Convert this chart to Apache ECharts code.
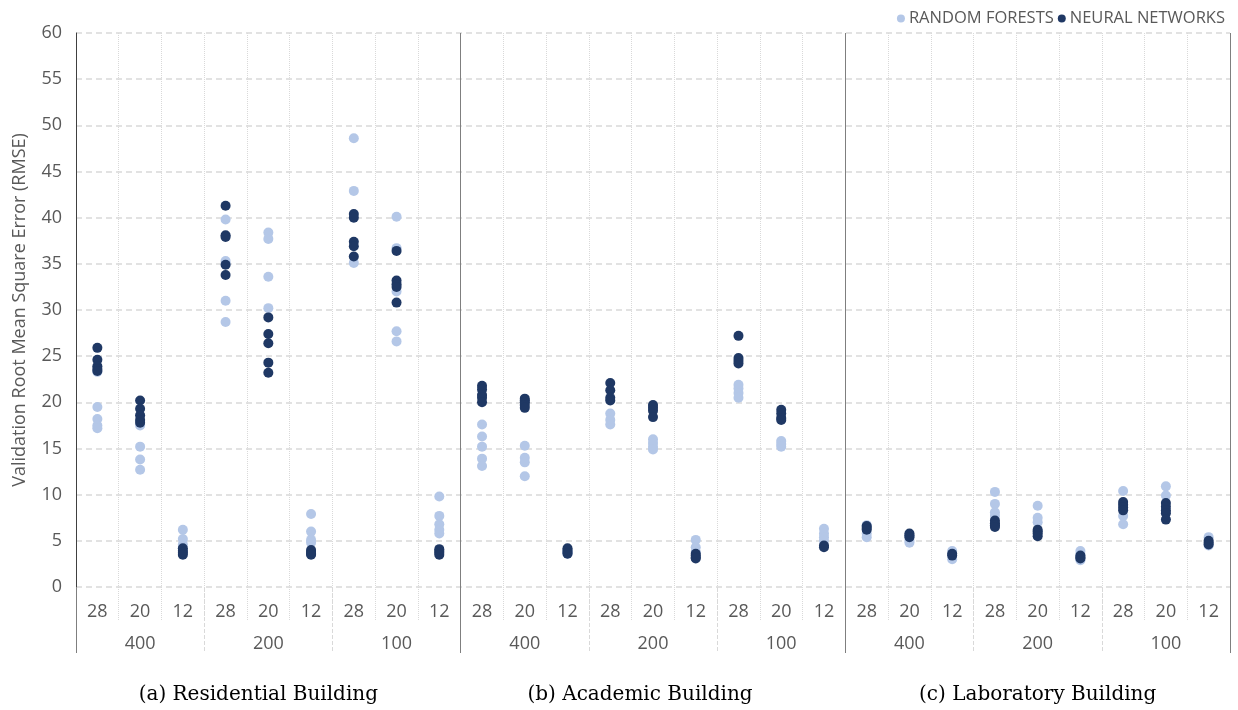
<!DOCTYPE html>
<html>
<head>
<meta charset="utf-8">
<title>Validation RMSE by building</title>
<script src="https://cdn.jsdelivr.net/npm/echarts@6/dist/echarts.min.js"></script>
<style>
  html, body { margin: 0; padding: 0; background: #ffffff; }
  #chart { width: 1238px; height: 710px; }
</style>
</head>
<body>
<div id="chart"></div>
<script>
// Category levels (outer to inner)
const buildings = ['(a) Residential Building', '(b) Academic Building', '(c) Laboratory Building'];
const sampleSizes = ['400', '200', '100'];
const featureCounts = ['28', '20', '12'];

// Validation RMSE per column (building > sample size > feature count)
const randomForests = [
  [23.3, 19.5, 18.2, 17.5, 17.2],
  [17.5, 15.2, 13.8, 12.7],
  [6.2, 5.2, 4.6],
  [39.8, 35.3, 35.0, 31.0, 28.7],
  [38.4, 37.7, 33.6, 30.2],
  [7.9, 6.0, 5.1, 4.8],
  [48.6, 42.9, 35.1],
  [40.1, 36.7, 32.0, 27.7, 26.6],
  [9.8, 7.7, 6.8, 6.2, 5.8],
  [17.6, 16.3, 15.2, 13.9, 13.1],
  [15.3, 14.0, 13.5, 12.0],
  [3.9, 3.7, 3.6],
  [18.8, 18.1, 17.6],
  [16.0, 15.6, 15.2, 14.9],
  [5.1, 4.3, 3.8],
  [21.9, 21.5, 21.0, 20.5],
  [15.8, 15.5, 15.2],
  [6.3, 5.8, 5.4, 5.0],
  [6.7, 5.8, 5.4],
  [5.5, 5.0, 4.8],
  [3.9, 3.0],
  [10.3, 9.0, 8.1, 7.7],
  [8.8, 7.5, 7.0],
  [3.9, 3.5, 2.9],
  [10.4, 7.7, 6.8],
  [10.9, 9.9],
  [5.4, 4.5]
];

const neuralNetworks = [
  [25.9, 24.6, 23.9, 23.6, 23.4],
  [20.2, 19.3, 18.6, 18.1, 17.8],
  [4.2, 3.9, 3.7, 3.5],
  [41.3, 38.1, 37.9, 34.9, 33.8],
  [29.2, 27.4, 26.4, 24.3, 23.2],
  [4.0, 3.8, 3.6, 3.5],
  [40.4, 40.0, 37.4, 36.9, 35.8],
  [36.4, 33.2, 32.8, 32.5, 30.8],
  [4.1, 3.9, 3.7, 3.5],
  [21.8, 21.4, 20.8, 20.5, 20.0],
  [20.4, 20.2, 20.0, 19.7, 19.4],
  [4.2, 4.0, 3.8, 3.6],
  [22.1, 21.3, 20.5, 20.2],
  [19.7, 19.4, 19.1, 18.4],
  [3.6, 3.4, 3.2, 3.1],
  [27.2, 24.8, 24.5, 24.2],
  [19.2, 18.8, 18.3, 18.1],
  [4.5, 4.3],
  [6.6, 6.4, 6.2],
  [5.8, 5.6, 5.4],
  [3.6, 3.4],
  [7.2, 6.9, 6.7, 6.5],
  [6.2, 6.0, 5.8, 5.5],
  [3.4, 3.2, 3.1],
  [9.2, 8.9, 8.6, 8.3],
  [9.1, 8.7, 8.3, 8.0, 7.3],
  [5.0, 4.8, 4.6]
];

const yTicks = { min: 0, max: 60, interval: 5 };

// Build the three category levels
const innerLabels = [];
const middleLabels = [];
buildings.forEach(() => {
  sampleSizes.forEach(s => {
    middleLabels.push(s);
    featureCounts.forEach(f => innerLabels.push(f));
  });
});
const innerKeys = innerLabels.map((_, i) => 'c' + i);
const middleKeys = middleLabels.map((_, i) => 'm' + i);

function toPoints(columns) {
  const pts = [];
  columns.forEach((vals, i) => vals.forEach(v => pts.push([innerKeys[i], v])));
  return pts;
}

const textGrey = '#595959';
const gridGrey = '#d9d9d9';
const sansFont = '"Open Sans", "Noto Sans", sans-serif';
const serifFont = '"DejaVu Serif", "Liberation Serif", serif';

// Caption styles; the first two captions sit slightly left of their group centre
const captionBase = { color: '#000000', fontSize: 20, fontFamily: serifFont };
const captionRich = {
  b0: Object.assign({ padding: [0, 20, 0, 0] }, captionBase),
  b1: Object.assign({ padding: [0, 26, 0, 0] }, captionBase),
  b2: Object.assign({ padding: [0, 0, 0, 0] }, captionBase)
};

const chart = echarts.init(document.getElementById('chart'), null, { renderer: 'canvas' });

chart.setOption({
  animation: false,
  backgroundColor: '#ffffff',
  grid: { left: 76, right: 8, top: 33, bottom: 123, containLabel: false, outerBoundsMode: 'none' },
  legend: {
    right: 8,
    top: 5,
    icon: 'circle',
    itemWidth: 8,
    itemHeight: 8,
    itemGap: 4,
    textStyle: { color: textGrey, fontSize: 16.5, fontFamily: sansFont, padding: [0, 0, 0, -1] },
    data: ['RANDOM FORESTS', 'NEURAL NETWORKS']
  },
  xAxis: [
    {
      type: 'category',
      position: 'bottom',
      offset: 0,
      data: innerKeys,
      boundaryGap: true,
      axisLine: { show: false },
      axisTick: { show: true, interval: 0, length: 34, lineStyle: { color: gridGrey, type: 'dotted', width: 1 } },
      splitLine: { show: true, interval: 0, lineStyle: { color: gridGrey, type: 'dotted', width: 1 } },
      axisLabel: {
        interval: 0, margin: 16, color: textGrey, fontSize: 18, fontFamily: sansFont,
        formatter: (v) => innerLabels[innerKeys.indexOf(v)]
      }
    },
    {
      type: 'category',
      position: 'bottom',
      offset: 0,
      data: middleKeys,
      boundaryGap: true,
      axisLine: { show: false },
      axisTick: { show: true, interval: 0, length: 66, lineStyle: { color: gridGrey, type: 'dashed', width: 1 } },
      splitLine: { show: false },
      axisLabel: {
        interval: 0, margin: 48, color: textGrey, fontSize: 18, fontFamily: sansFont,
        formatter: (v) => middleLabels[middleKeys.indexOf(v)]
      }
    },
    {
      type: 'category',
      position: 'bottom',
      offset: 0,
      data: buildings,
      boundaryGap: true,
      axisLine: { show: false },
      axisTick: { show: true, interval: 0, length: 66, lineStyle: { color: '#7f7f7f', width: 1 } },
      splitLine: { show: true, interval: 0, lineStyle: { color: '#7f7f7f', width: 1 } },
      axisLabel: {
        interval: 0, margin: 98, color: '#000000', fontSize: 20, fontFamily: serifFont,
        formatter: (v) => '{b' + buildings.indexOf(v) + '|' + v + '}',
        rich: captionRich
      }
    }
  ],
  yAxis: {
    type: 'value',
    min: yTicks.min,
    max: yTicks.max,
    interval: yTicks.interval,
    name: 'Validation Root Mean Square Error (RMSE)',
    nameLocation: 'middle',
    nameGap: 47,
    nameRotate: 90,
    nameTextStyle: { color: textGrey, fontSize: 18, fontFamily: sansFont },
    axisLine: { show: true, lineStyle: { color: '#404040', width: 1 } },
    axisTick: { show: false },
    axisLabel: { color: textGrey, fontSize: 18, margin: 14, fontFamily: sansFont },
    splitLine: { show: true, lineStyle: { color: gridGrey, type: [6, 4], width: 1.5 } }
  },
  series: [
    {
      name: 'RANDOM FORESTS',
      type: 'scatter',
      xAxisIndex: 0,
      symbol: 'circle',
      symbolSize: 10,
      itemStyle: { color: '#b4c7e7', opacity: 1 },
      data: toPoints(randomForests),
      z: 2
    },
    {
      name: 'NEURAL NETWORKS',
      type: 'scatter',
      xAxisIndex: 0,
      symbol: 'circle',
      symbolSize: 10,
      itemStyle: { color: '#1f3864', opacity: 1 },
      data: toPoints(neuralNetworks),
      z: 3
    }
  ]
});
</script>
</body>
</html>
